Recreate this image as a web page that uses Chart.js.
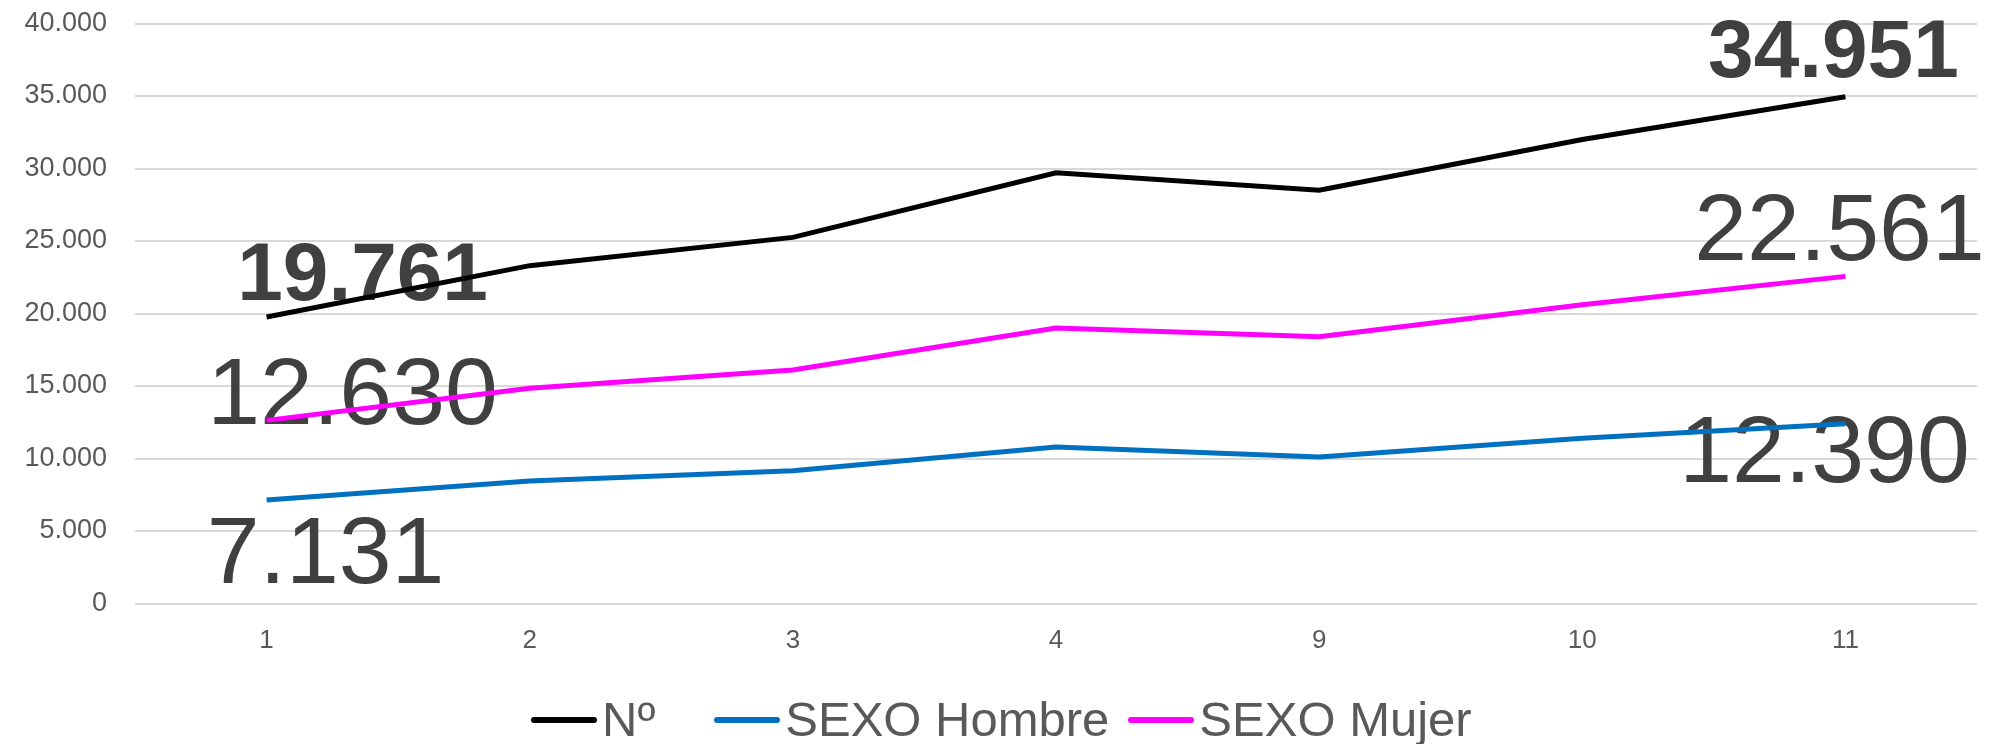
<!DOCTYPE html>
<html lang="es">
<head>
<meta charset="utf-8">
<title>Nº por sexo</title>
<script src="https://cdn.jsdelivr.net/npm/chart.js@4.4.1/dist/chart.umd.min.js"></script>
<style>
    html, body { margin: 0; padding: 0; background: #ffffff; }
    body { position: relative; width: 1991px; height: 744px; overflow: hidden; }
    #grafico { display: block; }
    #leyenda {
        position: absolute;
        left: 531px;
        top: 691px;
        display: flex;
        align-items: center;
        font-family: 'Liberation Sans', sans-serif;
        font-size: 49px;
        line-height: 57.6px;
        color: #595959;
        white-space: nowrap;
    }
    .item { display: flex; align-items: center; }
    .item:nth-child(1) { margin-right: 59px; }
    .item:nth-child(2) { margin-right: 19px; }
    .linea { display: inline-block; width: 66px; height: 6px; border-radius: 3px; margin-right: 5px; }
</style>
</head>
<body>
<canvas id="grafico" width="1991" height="744"></canvas>
<div id="leyenda"></div>
<script>
const categorias = ['1', '2', '3', '4', '9', '10', '11'];
const totalN = [19761, 23300, 25250, 29700, 28500, 32000, 34951];
const sexoHombre = [7131, 8450, 9150, 10800, 10100, 11400, 12390];
const sexoMujer = [12630, 14850, 16100, 19000, 18400, 20600, 22561];
const ticksY = [0, 5000, 10000, 15000, 20000, 25000, 30000, 35000, 40000];

// formato con punto de miles: 40000 -> 40.000
function formatoMiles(valor) {
    return String(valor).replace(/\B(?=(\d{3})+(?!\d))/g, '.');
}

// estilo y colocación de las etiquetas del primer y último punto de cada serie
const estilosEtiqueta = [
    { fuente: 'bold 82px "Liberation Sans"', desplazamientos: [[96, -17], [-12, -20]] },
    { fuente: '95px "Liberation Sans"', desplazamientos: [[59, 83], [-21, 58]] },
    { fuente: '95px "Liberation Sans"', desplazamientos: [[86, 4], [-6, -16]] }
];

const etiquetasExtremos = {
    id: 'etiquetasExtremos',
    beforeDatasetsDraw(chart) {
        const ctx = chart.ctx;
        chart.data.datasets.forEach((ds, i) => {
            const meta = chart.getDatasetMeta(i);
            const estilo = estilosEtiqueta[i];
            [0, ds.data.length - 1].forEach((idx, k) => {
                const punto = meta.data[idx];
                const desp = estilo.desplazamientos[k];
                ctx.save();
                ctx.font = estilo.fuente;
                ctx.fillStyle = '#404040';
                ctx.textAlign = 'center';
                ctx.textBaseline = 'alphabetic';
                ctx.fillText(formatoMiles(ds.data[idx]), punto.x + desp[0], punto.y + desp[1]);
                ctx.restore();
            });
        });
    }
};

// leyenda en HTML a partir de las series del gráfico
function crearLeyenda(chart) {
    const contenedor = document.getElementById('leyenda');
    chart.data.datasets.forEach(ds => {
        const item = document.createElement('div');
        item.className = 'item';
        const linea = document.createElement('span');
        linea.className = 'linea';
        linea.style.background = ds.borderColor;
        const texto = document.createElement('span');
        texto.textContent = ds.label;
        item.appendChild(linea);
        item.appendChild(texto);
        contenedor.appendChild(item);
    });
}

document.addEventListener('DOMContentLoaded', () => {
    const ctx = document.getElementById('grafico');

    const grafico = new Chart(ctx, {
        type: 'line',
        data: {
            labels: categorias,
            datasets: [
                {
                    label: 'Nº',
                    data: totalN,
                    borderColor: '#000000',
                    backgroundColor: '#000000',
                    borderWidth: 5,
                    pointRadius: 0,
                    tension: 0
                },
                {
                    label: 'SEXO Hombre',
                    data: sexoHombre,
                    borderColor: '#0070c0',
                    backgroundColor: '#0070c0',
                    borderWidth: 5,
                    pointRadius: 0,
                    tension: 0
                },
                {
                    label: 'SEXO Mujer',
                    data: sexoMujer,
                    borderColor: '#ff00ff',
                    backgroundColor: '#ff00ff',
                    borderWidth: 5,
                    pointRadius: 0,
                    tension: 0
                }
            ]
        },
        options: {
            responsive: false,
            animation: false,
            layout: {
                padding: { top: 23.5, right: 14, bottom: 80.5, left: 0 }
            },
            scales: {
                x: {
                    offset: true,
                    grid: { display: false },
                    border: { display: false },
                    ticks: {
                        padding: 14,
                        color: '#595959',
                        font: { family: 'Liberation Sans', size: 26 }
                    },
                    afterFit(scale) {
                        scale.height = 60;
                    }
                },
                y: {
                    min: 0,
                    max: 40000,
                    grid: {
                        color: '#d9d9d9',
                        lineWidth: 2,
                        drawTicks: false
                    },
                    border: { display: false },
                    afterBuildTicks(scale) {
                        scale.ticks = ticksY.map(v => ({ value: v }));
                    },
                    ticks: {
                        padding: 28,
                        color: '#595959',
                        font: { family: 'Liberation Sans', size: 27 },
                        callback: (valor) => formatoMiles(valor)
                    },
                    afterFit(scale) {
                        scale.width = 135;
                        scale.paddingTop = 0;
                        scale.paddingBottom = 0;
                    }
                }
            },
            plugins: {
                tooltip: { enabled: false },
                legend: { display: false }
            }
        },
        plugins: [etiquetasExtremos]
    });

    crearLeyenda(grafico);
});
</script>
</body>
</html>
